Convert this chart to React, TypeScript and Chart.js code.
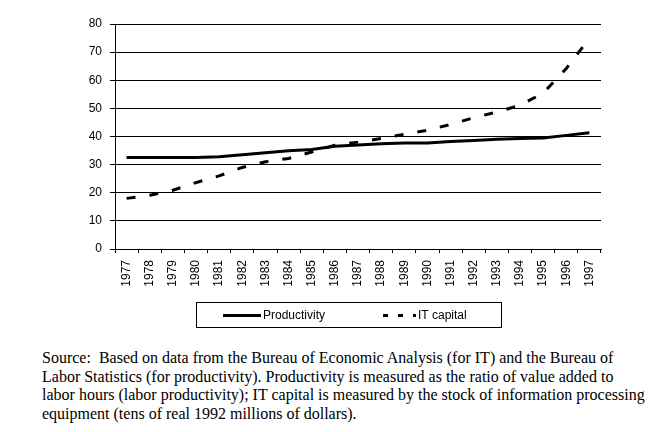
import { useEffect, useRef } from "react";
import { Chart, registerables } from "chart.js";

Chart.register(...registerables);

const years = [
  "1977", "1978", "1979", "1980", "1981", "1982", "1983", "1984", "1985", "1986", "1987",
  "1988", "1989", "1990", "1991", "1992", "1993", "1994", "1995", "1996", "1997",
];
const productivity = [
  32.5, 32.5, 32.5, 32.5, 32.8, 33.5, 34.2, 34.9, 35.4, 36.5, 37.0,
  37.4, 37.7, 37.7, 38.2, 38.6, 39.0, 39.3, 39.5, 40.4, 41.3,
];
const itCapital = [
  18.0, 19.1, 20.9, 23.6, 26.0, 29.0, 31.0, 32.2, 34.5, 36.9, 38.0,
  39.3, 40.8, 42.2, 44.3, 46.7, 48.7, 51.1, 55.4, 64.2, 74.9,
];
const seriesNames = ["Productivity", "IT capital"];
const yMin = 0;
const yMax = 80;
const yStep = 10;
const sourceLines = [
  "Source:  Based on data from the Bureau of Economic Analysis (for IT) and the Bureau of",
  "Labor Statistics (for productivity). Productivity is measured as the ratio of value added to",
  "labor hours (labor productivity); IT capital is measured by the stock of information processing",
  "equipment (tens of real 1992 millions of dollars).",
];

const FONT = "'Liberation Sans', Arial, sans-serif";

const boxedLegend = {
  id: "boxedLegend",
  afterDraw(chart: any) {
    const { ctx, chartArea } = chart;
    const left = chartArea.left + 81;
    const top = chartArea.bottom + 53;
    const w = 305;
    const h = 25;
    ctx.save();
    ctx.strokeStyle = "#000";
    ctx.lineWidth = 1;
    ctx.setLineDash([]);
    ctx.strokeRect(Math.round(left) + 0.5, Math.round(top) + 0.5, w, h);
    const cy = Math.round(top + h / 2) + 0.5;
    const items = [
      { lineX: 27, lineW: 38, textX: 67, dash: [] as number[] },
      { lineX: 187, lineW: 33, textX: 222, dash: [5, 10] },
    ];
    chart.data.datasets.forEach((ds: any, i: number) => {
      const it = items[i];
      ctx.beginPath();
      ctx.setLineDash(it.dash);
      ctx.lineWidth = 3;
      ctx.lineCap = "butt";
      ctx.strokeStyle = ds.borderColor;
      ctx.moveTo(left + it.lineX, cy);
      ctx.lineTo(left + it.lineX + it.lineW, cy);
      ctx.stroke();
      ctx.setLineDash([]);
      ctx.fillStyle = "#000";
      ctx.font = `12px ${FONT}`;
      ctx.textBaseline = "middle";
      ctx.textAlign = "left";
      ctx.fillText(ds.label, left + it.textX, cy);
    });
    ctx.restore();
  },
};

export default function App() {
  const ref = useRef<HTMLCanvasElement | null>(null);

  useEffect(() => {
    if (!ref.current) return;
    const chart = new Chart(ref.current, {
      type: "line",
      data: {
        labels: years,
        datasets: [
          {
            label: seriesNames[0],
            data: productivity,
            borderColor: "#000",
            backgroundColor: "#000",
            borderWidth: 3,
            pointRadius: 0,
            tension: 0,
            fill: false,
          },
          {
            label: seriesNames[1],
            data: itCapital,
            borderColor: "#000",
            backgroundColor: "#000",
            borderWidth: 3,
            borderDash: [9, 14],
            borderCapStyle: "butt",
            pointRadius: 0,
            tension: 0,
            fill: false,
          },
        ],
      },
      options: {
        responsive: false,
        animation: false,
        devicePixelRatio: 1,
        layout: { padding: { left: 0, right: 58, top: 24, bottom: 51 } },
        plugins: {
          legend: { display: false },
          tooltip: { enabled: false },
        },
        scales: {
          x: {
            type: "category",
            offset: true,
            grid: {
              offset: true,
              drawOnChartArea: false,
              color: "#000",
              tickColor: "#000",
              tickLength: 4,
            },
            border: { color: "#000", width: 1 },
            ticks: {
              color: "#000",
              font: { family: FONT, size: 12 },
              minRotation: 90,
              maxRotation: 90,
              autoSkip: false,
              padding: 7,
            },
            afterFit: (s: any) => {
              s.height = 40;
            },
          },
          y: {
            min: yMin,
            max: yMax,
            ticks: {
              stepSize: yStep,
              color: "#000",
              font: { family: FONT, size: 12 },
              padding: 8,
            },
            grid: { color: "#000", tickColor: "#000", tickLength: 5 },
            border: { color: "#000", width: 1 },
            afterFit: (s: any) => {
              s.width = 115;
            },
          },
        },
      },
      plugins: [boxedLegend],
    });
    return () => chart.destroy();
  }, []);

  return (
    <div style={{ position: "absolute", left: 0, top: 0, width: 659, height: 432, background: "#fff", overflow: "hidden" }}>
      <canvas ref={ref} width={659} height={340} style={{ position: "absolute", left: 0, top: 0, width: 659, height: 340 }} />
      <div
        style={{
          position: "absolute",
          left: 42,
          top: 349,
          fontFamily: "'Liberation Serif', 'Times New Roman', serif",
          fontSize: 16,
          lineHeight: "18.5px",
          color: "#000",
          whiteSpace: "pre",
        }}
      >
        {sourceLines.map((l, i) => (
          <div key={i}>{l}</div>
        ))}
      </div>
    </div>
  );
}
